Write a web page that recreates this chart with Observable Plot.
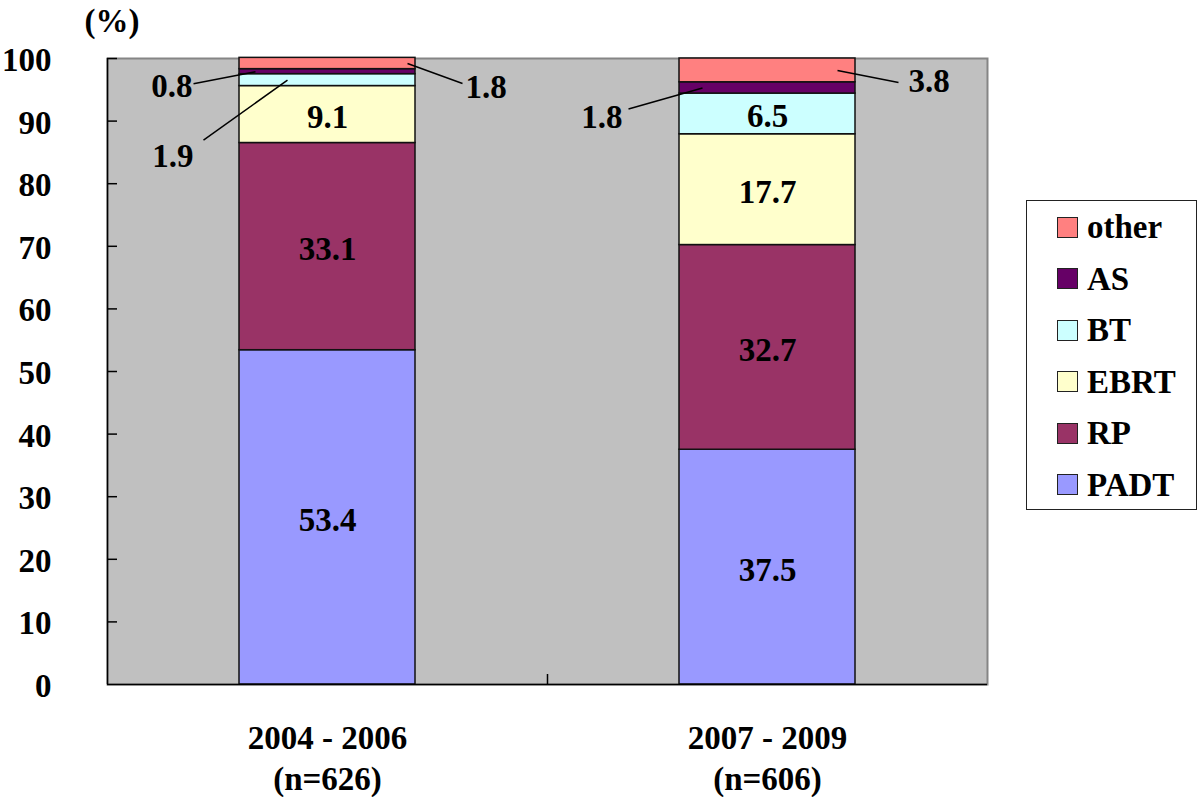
<!DOCTYPE html>
<html><head><meta charset="utf-8">
<script src="https://cdn.jsdelivr.net/npm/d3@7"></script>
<script src="https://cdn.jsdelivr.net/npm/@observablehq/plot@0.6"></script>
<style>
body{margin:0;background:#fff;}
#wrap{position:relative;width:1200px;height:797px;font-family:"Liberation Serif","DejaVu Serif",serif;font-weight:bold;}
#legend{position:absolute;left:1026px;top:200px;width:171px;height:310px;border:1.5px solid #222;background:#fff;box-sizing:border-box;}
.item{position:absolute;left:30px;height:40px;display:flex;align-items:center;font-size:33px;line-height:40px;white-space:nowrap;}
.sw{width:21px;height:21px;border:1.5px solid #222;box-sizing:border-box;margin-right:9px;flex:none;}
</style></head>
<body><div id="wrap"></div>
<script>
// ---- data ----
const periods = ["2004 - 2006", "2007 - 2009"];
const sampleSizes = [626, 606];
const series = ["PADT", "RP", "EBRT", "BT", "AS", "other"];
const padtValues = [53.4, 37.5];
const rpValues = [33.1, 32.7];
const ebrtValues = [9.1, 17.7];
const btValues = [1.9, 6.5];
const asValues = [0.8, 1.8];
const otherValues = [1.8, 3.8];
const yTicks = [0, 10, 20, 30, 40, 50, 60, 70, 80, 90, 100];

// ---- styles ----
const colors = ["#9999FF", "#993366", "#FFFFCC", "#CCFFFF", "#660066", "#FF8080"];
const W = 1200, H = 797, mL = 107, mR = 213, mT = 58, mB = 113;
const pxX = (W - mL - mR) / 2;   // pixels per x unit
const pxY = (H - mT - mB) / 100; // pixels per percent
const barHalf = 88 / pxX;

// ---- stacked table ----
const valuesBySeries = [padtValues, rpValues, ebrtValues, btValues, asValues, otherValues];
const rows = [];
periods.forEach((p, i) => {
  let cum = 0;
  series.forEach((s, k) => {
    const v = valuesBySeries[k][i];
    rows.push({period: p, pi: i, series: s, value: v, y1: cum, y2: cum + v});
    cum += v;
  });
});

// ---- callout layout (pixel offsets) for thin segments ----
const calloutLayout = [
  {period: 0, series: "AS",    ax: -72, lx: -62, ly: 12, tdx: -1,  tdy: 3,  anchor: "end"},
  {period: 0, series: "BT",    ax: -40, lx: -84, ly: 60, tdx: -10, tdy: 16, anchor: "end"},
  {period: 0, series: "other", ax: 80,  lx: 55,  ly: 20, tdx: 3,   tdy: 4,  anchor: "start"},
  {period: 1, series: "AS",    ax: -65, lx: -74, ly: 21, tdx: -6,  tdy: 9,  anchor: "end"},
  {period: 1, series: "other", ax: 70,  lx: 61,  ly: 12, tdx: 10,  tdy: -1, anchor: "start"}
];
const callouts = calloutLayout.map(c => {
  const r = rows.find(r => r.pi === c.period && r.series === c.series);
  const x0 = c.period + 0.5 + c.ax / pxX;
  const y0 = (r.y1 + r.y2) / 2;
  const x1 = x0 + c.lx / pxX;
  const y1 = y0 - c.ly / pxY;
  return {...c, value: r.value, x0, y0, x1, y1, tx: x1 + c.tdx / pxX, ty: y1 - c.tdy / pxY};
});
const fmt = v => v.toFixed(1);
const periodTable = periods.map((p, i) => ({pi: i, label: `${p}\n(n=${sampleSizes[i]})`}));
const FONT = '"Liberation Serif", "DejaVu Serif", serif';
const txt = {fill: "#000", fontSize: 33, fontFamily: FONT, fontWeight: "bold"};

const chart = Plot.plot({
  width: W, height: H,
  marginLeft: mL, marginRight: mR, marginTop: mT, marginBottom: mB,
  x: {domain: [0, 2], axis: null},
  y: {domain: [0, 100], label: null},
  color: {domain: series, range: colors},
  style: {fontFamily: FONT, fontWeight: "bold", fontSize: "33px", background: "white", color: "#000", overflow: "visible"},
  marks: [
    Plot.frame({fill: "#C0C0C0"}),
    Plot.frame({stroke: "#858585", strokeWidth: 2}),
    Plot.rect(rows, {
      x1: r => r.pi + 0.5 - barHalf, x2: r => r.pi + 0.5 + barHalf,
      y1: "y1", y2: "y2", fill: "series", stroke: "#111", strokeWidth: 1.5
    }),
    Plot.ruleX([0], {stroke: "#000", strokeWidth: 1.5}),
    Plot.ruleY([0], {stroke: "#000", strokeWidth: 1.5}),
    Plot.ruleY(yTicks.filter(t => t > 0), {y: d => d, x1: 0, x2: 10 / pxX, stroke: "#000", strokeWidth: 1.5}),
    Plot.ruleX([1], {y1: 0, y2: 10 / pxY, stroke: "#000", strokeWidth: 1.5}),
    Plot.axisY(yTicks, {tickSize: 0, tickPadding: 56, dy: 2, fontSize: 33, fontFamily: FONT, fontWeight: "bold", label: null}),
    Plot.text(["(%)"], {frameAnchor: "top-left", textAnchor: "start", lineAnchor: "middle", dx: -23, dy: -37, ...txt}),
    Plot.text(rows.filter(r => r.value >= 5), {
      x: r => r.pi + 0.5, y: r => (r.y1 + r.y2) / 2, text: r => fmt(r.value), dy: 3, ...txt
    }),
    Plot.link(callouts, {x1: "x0", y1: "y0", x2: "x1", y2: "y1", stroke: "#000", strokeWidth: 1.5}),
    Plot.text(callouts.filter(c => c.anchor === "end"), {x: "tx", y: "ty", text: c => fmt(c.value), textAnchor: "end", ...txt}),
    Plot.text(callouts.filter(c => c.anchor === "start"), {x: "tx", y: "ty", text: c => fmt(c.value), textAnchor: "start", ...txt}),
    Plot.text(periodTable, {
      x: d => d.pi + 0.5, y: 0, text: "label", dy: 72, lineAnchor: "middle", lineHeight: 1.242, ...txt
    })
  ]
});
const wrap = document.getElementById("wrap");
wrap.appendChild(chart);

// ---- legend ----
const legend = document.createElement("div");
legend.id = "legend";
series.slice().reverse().forEach((s, k) => {
  const item = document.createElement("div");
  item.className = "item";
  item.style.top = (27.5 + 51.5 * k - 20 - 1.5) + "px";
  const sw = document.createElement("span");
  sw.className = "sw";
  sw.style.background = colors[series.indexOf(s)];
  const t = document.createElement("span");
  t.textContent = s;
  item.appendChild(sw);
  item.appendChild(t);
  legend.appendChild(item);
});
wrap.appendChild(legend);
</script>
</body></html>
